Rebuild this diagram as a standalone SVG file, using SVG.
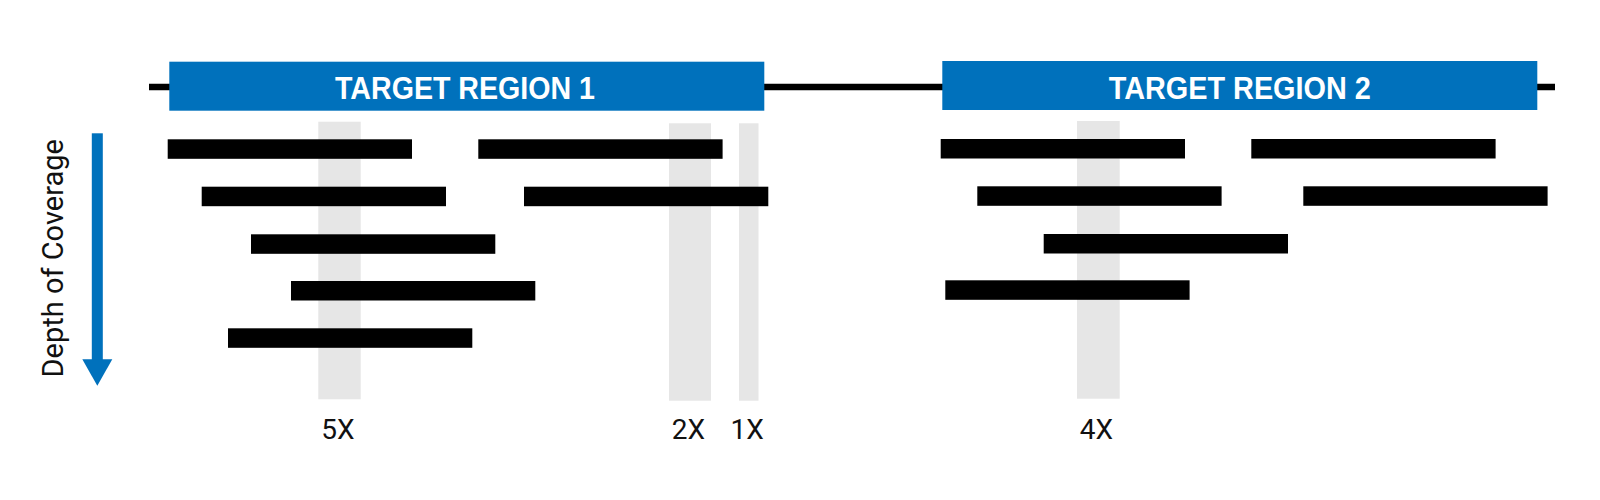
<svg xmlns="http://www.w3.org/2000/svg" width="1600" height="500" viewBox="0 0 1600 500">
  <style>
    .region { fill: #0071BC; }
    .region-label { font-family: "Liberation Sans", Arial, sans-serif; font-weight: bold; font-size: 31px; fill: #FFFFFF; text-anchor: middle; }
    .read { fill: #000000; }
    .col { fill: #E6E6E6; }
    .cov { font-family: Roboto, "Liberation Sans", sans-serif; font-size: 28px; fill: #111111; text-anchor: middle; }
    .axis-label { font-family: Roboto, "Liberation Sans", sans-serif; font-size: 29px; fill: #111111; text-anchor: middle; }
  </style>
  <rect width="1600" height="500" fill="#FFFFFF"/>

  <g id="connectors">
    <line id="genome-line" x1="149" y1="87" x2="1555" y2="87" stroke="#000000" stroke-width="6.5"/>
  </g>

  <g id="coverage-columns">
    <rect class="col" x="318.3" y="121.7" width="42.4" height="277.6"/>
    <rect class="col" x="669" y="123.3" width="42" height="277.4"/>
    <rect class="col" x="739" y="123.3" width="19.5" height="277.4"/>
    <rect class="col" x="1077" y="121" width="42.7" height="277.7"/>
  </g>

  <g id="target-region-1">
    <rect class="region" x="169.3" y="61.7" width="595" height="49"/>
    <text class="region-label" x="465" y="98.5" textLength="260" lengthAdjust="spacingAndGlyphs">TARGET REGION 1</text>
  </g>

  <g id="target-region-2">
    <rect class="region" x="942.3" y="61" width="595" height="49"/>
    <text class="region-label" x="1239.8" y="98.5" textLength="262" lengthAdjust="spacingAndGlyphs">TARGET REGION 2</text>
  </g>

  <g id="reads-region-1">
    <rect class="read" x="167.7" y="139.3" width="244.3" height="19.5"/>
    <rect class="read" x="478.3" y="139.3" width="244.3" height="19.5"/>
    <rect class="read" x="201.7" y="186.7" width="244.3" height="19.5"/>
    <rect class="read" x="524" y="186.7" width="244.3" height="19.5"/>
    <rect class="read" x="251" y="234.3" width="244.3" height="19.5"/>
    <rect class="read" x="291" y="281" width="244.3" height="19.5"/>
    <rect class="read" x="228" y="328.3" width="244.3" height="19.5"/>
  </g>

  <g id="reads-region-2">
    <rect class="read" x="940.7" y="139" width="244.3" height="19.5"/>
    <rect class="read" x="1251.3" y="139" width="244.3" height="19.5"/>
    <rect class="read" x="977.3" y="186.3" width="244.3" height="19.5"/>
    <rect class="read" x="1303.3" y="186.3" width="244.3" height="19.5"/>
    <rect class="read" x="1043.7" y="234" width="244.3" height="19.5"/>
    <rect class="read" x="945.3" y="280.3" width="244.3" height="19.5"/>
  </g>

  <g id="coverage-labels">
    <text class="cov" x="338" y="439.3">5X</text>
    <text class="cov" x="688.5" y="439.3">2X</text>
    <text class="cov" x="747.2" y="439.3">1X</text>
    <text class="cov" x="1096.3" y="439.3">4X</text>
  </g>

  <g id="depth-axis">
    <rect x="91.8" y="133.3" width="11" height="227" fill="#0071BC"/>
    <polygon points="82.3,359.3 112.3,359.3 97.3,385.7" fill="#0071BC"/>
    <text class="axis-label" transform="translate(62.8,258.3) rotate(-90)" x="0" y="0">Depth of Coverage</text>
  </g>
</svg>
